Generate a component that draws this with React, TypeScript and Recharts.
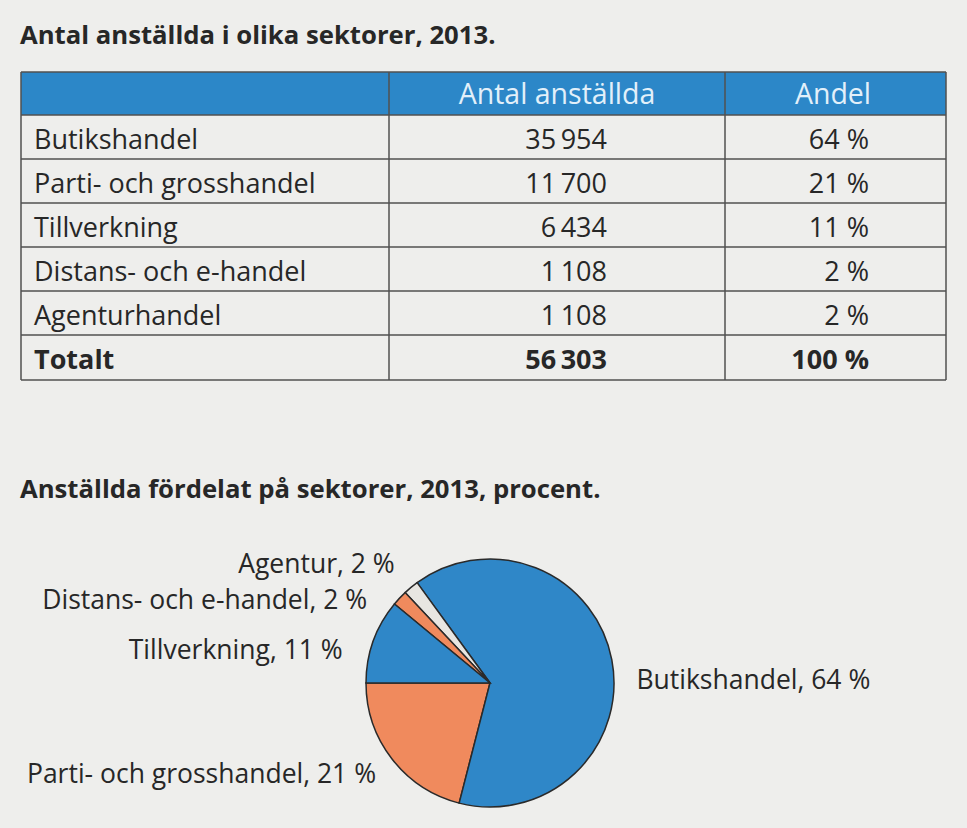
import React from 'react';
import { PieChart, Pie, Cell } from 'recharts';

// ---- Data ----
const tableTitle = 'Antal anställda i olika sektorer, 2013.';
const pieTitle = 'Anställda fördelat på sektorer, 2013, procent.';
const headerLabels = ['', 'Antal anställda', 'Andel'];
const sectors = ['Butikshandel', 'Parti- och grosshandel', 'Tillverkning', 'Distans- och e-handel', 'Agenturhandel'];
const employees = [35954, 11700, 6434, 1108, 1108];
const shares = [64, 21, 11, 2, 2];
const totalLabel = 'Totalt';
const totalEmployees = 56303;
const totalShare = 100;

const pieNames = ['Parti- och grosshandel', 'Butikshandel', 'Agentur', 'Distans- och e-handel', 'Tillverkning'];
const pieValues = [21, 64, 2, 2, 11];
const pieColors = ['#f08a5d', '#2f87c8', '#e8e6e1', '#f08a5d', '#2f87c8'];

// ---- Styles / layout ----
const W = 967;
const H = 828;
const BG = '#eeeeec';
const TEXT = '#272727';
const LINE = '#505050';
const HEADER_BG = '#2c87c8';
const HEADER_TEXT = '#e2f0fa';
const FONT = '"Open Sans", "Noto Sans", sans-serif';

const tableLeft = 21;
const tableRight = 946;
const colX = [21, 389, 725, 946];
const rowY = [72, 115, 159, 203, 247, 291, 335, 380];

const labelNudge: Record<string, { dx: number; dy: number }> = {
  'Parti- och grosshandel': { dx: 3, dy: 0 },
  Butikshandel: { dx: 1, dy: 25 },
  Agentur: { dx: -1, dy: -5 },
  'Distans- och e-handel': { dx: -15, dy: 18 },
  Tillverkning: { dx: -8, dy: 17 },
};

const fmt = (n: number) => String(n).replace(/\B(?=(\d{3})+(?!\d))/g, '\u2009');

const pieData = pieNames.map((name, i) => ({ name, value: pieValues[i] }));

const RAD = Math.PI / 180;

const renderLabel = (props: any) => {
  const { cx, cy, midAngle, outerRadius, index } = props;
  const name = pieNames[index];
  const r = outerRadius + 24;
  const nudge = labelNudge[name] || { dx: 0, dy: 0 };
  const x = cx + r * Math.cos(-midAngle * RAD) + nudge.dx;
  const y = cy + r * Math.sin(-midAngle * RAD) + nudge.dy;
  const anchor = x > cx ? 'start' : 'end';
  return (
    <text x={x} y={y + 9} textAnchor={anchor} fill={TEXT} fontFamily={FONT} fontSize={26.5}>
      {`${name}, ${pieValues[index]} %`}
    </text>
  );
};

function Table() {
  const rows = sectors.map((s, i) => ({ label: s, emp: fmt(employees[i]), share: `${shares[i]} %`, bold: false }));
  rows.push({ label: totalLabel, emp: fmt(totalEmployees), share: `${totalShare} %`, bold: true });
  return (
    <svg width={W} height={H} style={{ position: 'absolute', left: 0, top: 0 }}>
      <rect x={0} y={0} width={W} height={H} fill={BG} />
      <text x={20} y={44} fontFamily={FONT} fontWeight={700} fontSize={25.7} fill={TEXT}>
        {tableTitle}
      </text>
      <text x={20} y={498} fontFamily={FONT} fontWeight={700} fontSize={25.7} fill={TEXT}>
        {pieTitle}
      </text>
      <rect x={tableLeft} y={rowY[0]} width={tableRight - tableLeft} height={rowY[1] - rowY[0]} fill={HEADER_BG} />
      <text x={557} y={rowY[0] + 32} textAnchor="middle" fontFamily={FONT} fontSize={28.5} fill={HEADER_TEXT}>
        {headerLabels[1]}
      </text>
      <text x={833} y={rowY[0] + 32} textAnchor="middle" fontFamily={FONT} fontSize={28.5} fill={HEADER_TEXT}>
        {headerLabels[2]}
      </text>
      {rows.map((r, i) => {
        const top = rowY[i + 1];
        const base = top + 34;
        return (
          <g key={r.label}>
            <text x={34} y={base} fontFamily={FONT} fontSize={27} fontWeight={r.bold ? 700 : 400} fill={TEXT}>
              {r.label}
            </text>
            <text x={607} y={base} textAnchor="end" fontFamily={FONT} fontSize={27} fontWeight={r.bold ? 700 : 400} fill={TEXT}>
              {r.emp}
            </text>
            <text x={869} y={base} textAnchor="end" fontFamily={FONT} fontSize={27} fontWeight={r.bold ? 700 : 400} fill={TEXT}>
              {r.share}
            </text>
          </g>
        );
      })}
      {rowY.map((y, i) => (
        <line key={'h' + i} x1={tableLeft} x2={tableRight} y1={y} y2={y} stroke={LINE} strokeWidth={1.5} />
      ))}
      {colX.map((x, i) => (
        <line key={'v' + i} x1={x} x2={x} y1={rowY[0]} y2={rowY[rowY.length - 1]} stroke={LINE} strokeWidth={1.5} />
      ))}
    </svg>
  );
}

export default function App() {
  return (
    <div style={{ position: 'absolute', left: 0, top: 0, width: W, height: H, background: BG, overflow: 'hidden' }}>
      <Table />
      <div style={{ position: 'absolute', left: 0, top: 0 }}>
        <PieChart width={W} height={H} margin={{ top: 0, right: 0, bottom: 0, left: 0 }}>
          <Pie
            data={pieData}
            dataKey="value"
            nameKey="name"
            cx={490}
            cy={683}
            outerRadius={124}
            startAngle={180}
            endAngle={540}
            stroke="#2a2a2a"
            strokeWidth={1.5}
            label={renderLabel}
            labelLine={false}
            isAnimationActive={false}
          >
            {pieData.map((d, i) => (
              <Cell key={d.name} fill={pieColors[i]} />
            ))}
          </Pie>
        </PieChart>
      </div>
    </div>
  );
}
